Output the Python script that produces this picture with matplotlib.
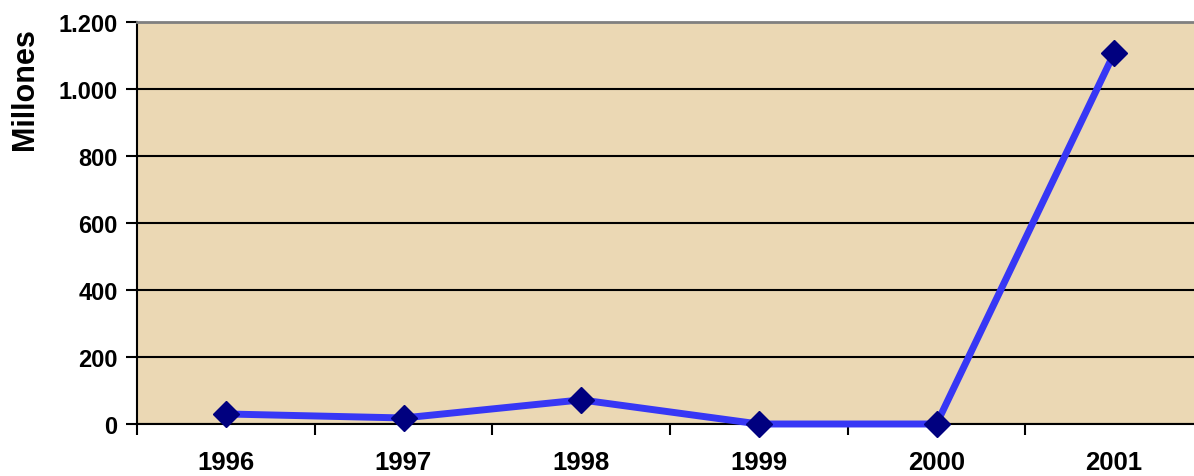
import numpy as np
import matplotlib.pyplot as plt
from matplotlib.ticker import FuncFormatter, FixedLocator

years = ["1996", "1997", "1998", "1999", "2000", "2001"]
millones = [30, 18, 72, 0, 0, 1107]
y_ticks = [0, 200, 400, 600, 800, 1000, 1200]

plt.rcParams['font.family'] = ['Liberation Sans', 'DejaVu Sans']
plt.rcParams['font.weight'] = 'bold'


def miles(v, pos):
    # thousands separator with a dot, as in the source
    return f"{int(v):,}".replace(",", ".")


def main():
    fig = plt.figure(figsize=(11.94, 4.77), dpi=100)
    ax = fig.add_axes([137 / 1194, 52 / 477, 1066 / 1194, 402 / 477])
    ax.set_facecolor("#EBD8B4")

    x = np.arange(len(years))
    ax.plot(x, millones, color="#3737F5", lw=5, zorder=3, clip_on=False)
    ax.plot(x, millones, linestyle="none", marker="D", ms=13.5,
            mfc="#00007F", mec="#00007F", zorder=4, clip_on=False)

    ax.set_xlim(-0.5, len(years) - 0.5)
    ax.set_ylim(0, 1200)

    ax.set_yticks(y_ticks)
    ax.yaxis.set_major_formatter(FuncFormatter(miles))
    ax.yaxis.grid(True, color="black", lw=1.5)
    ax.set_axisbelow(True)

    ax.set_xticks(x)
    ax.set_xticklabels(years)
    ax.xaxis.set_minor_locator(FixedLocator(np.arange(-0.5, len(years), 1.0)))
    ax.tick_params(axis="x", which="major", length=0, pad=19, labelsize=18.5)
    ax.tick_params(axis="x", which="minor", length=8, width=1.5, direction="out")
    ax.tick_params(axis="y", length=8, width=1.5, pad=6, labelsize=17)

    for side in ("left", "bottom"):
        ax.spines[side].set_linewidth(1.5)
        ax.spines[side].set_color("black")
    ax.spines["top"].set_color("#808080")
    ax.spines["top"].set_linewidth(2)
    ax.spines["right"].set_visible(False)

    # axis title sits near the top of the axis in the original
    fig.text(25 / 1194, 1 - 89 / 477, "Millones", rotation=90,
             ha="center", va="center", fontsize=22, fontweight="bold")

    fig.savefig("out.png", dpi=100)


if __name__ == "__main__":
    main()
